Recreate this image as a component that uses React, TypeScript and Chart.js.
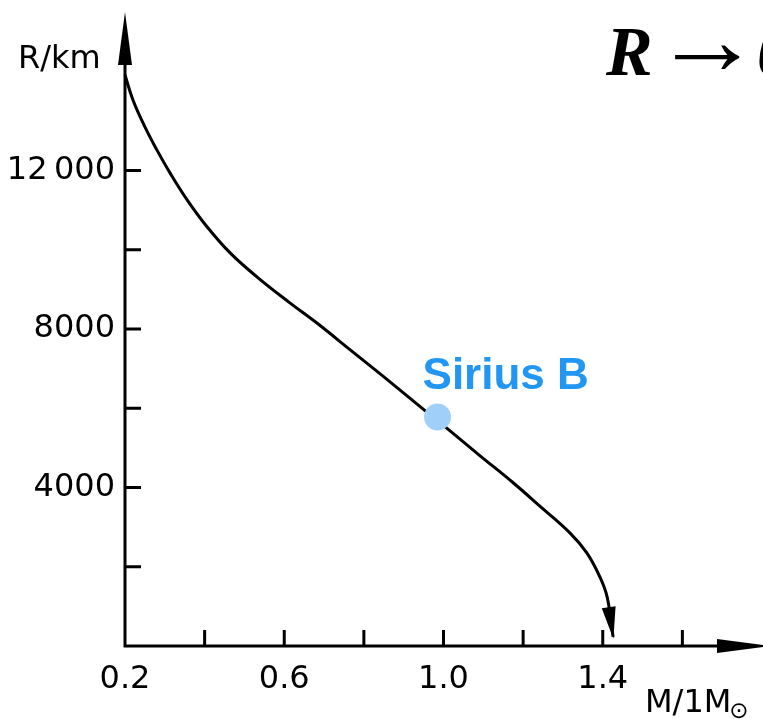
import { useEffect, useRef } from 'react';
import { Chart, registerables } from 'chart.js';

Chart.register(...registerables);

// Mass–radius relation of white dwarfs
const massValues = [0.2, 0.22, 0.25, 0.28, 0.313, 0.356, 0.406, 0.464, 0.532, 0.614, 0.682, 0.765, 0.848, 0.949, 1.009, 1.092, 1.175, 1.242, 1.318, 1.36, 1.393, 1.411, 1.426];
const radiusValues = [14410, 13780, 13100, 12520, 11940, 11260, 10580, 9920, 9310, 8660, 8150, 7480, 6810, 5980, 5490, 4800, 4120, 3530, 2850, 2350, 1740, 1240, 230];

const siriusMass = [0.985];
const siriusRadius = [5780];
const siriusLabel = 'Sirius B';

const yTickValues = [2000, 4000, 6000, 8000, 10000, 12000];
const yTickLabels: Record<number, string> = { 4000: '4000', 8000: '8000', 12000: '12\u2009000' };
const xTickValues = [0.4, 0.6, 0.8, 1.0, 1.2, 1.4, 1.6];
const xTickLabels: Record<string, string> = { '0.2': '0.2', '0.6': '0.6', '1.0': '1.0', '1.4': '1.4' };

const yAxisTitle = 'R/km';
const xAxisTitle = 'M/1M';
const xAxisSub = '\u2299';
const headline = ['R', '\u2192', '0'];

const FONT = '"DejaVu Sans", sans-serif';
const SERIF = '"Liberation Serif", "Times New Roman", serif';

const decorPlugin = {
  id: 'decor',
  beforeDatasetsDraw(chart: any) {
    const { ctx, chartArea } = chart;
    const xs = chart.scales.x;
    const ys = chart.scales.y;
    const x0 = chartArea.left;
    const y0 = chartArea.bottom;
    const xEnd = xs.getPixelForValue(xs.max);
    ctx.save();
    ctx.strokeStyle = '#000';
    ctx.fillStyle = '#000';
    ctx.lineWidth = 3;
    ctx.lineCap = 'butt';
    // axes
    ctx.beginPath();
    ctx.moveTo(x0, y0 + 1.5);
    ctx.lineTo(x0, chartArea.top + 40);
    ctx.moveTo(x0 - 1.5, y0);
    ctx.lineTo(xEnd - 20, y0);
    ctx.stroke();
    // y arrow head
    ctx.beginPath();
    ctx.moveTo(x0, chartArea.top);
    ctx.lineTo(x0 + 7, chartArea.top + 53);
    ctx.lineTo(x0 - 7, chartArea.top + 53);
    ctx.closePath();
    ctx.fill();
    // x arrow head
    ctx.beginPath();
    ctx.moveTo(xEnd + 8, y0);
    ctx.lineTo(xEnd - 45, y0 - 7);
    ctx.lineTo(xEnd - 45, y0 + 7);
    ctx.closePath();
    ctx.fill();
    // inward ticks
    ctx.beginPath();
    yTickValues.forEach((v) => {
      const py = ys.getPixelForValue(v);
      ctx.moveTo(x0, py);
      ctx.lineTo(x0 + 16, py);
    });
    xTickValues.forEach((v) => {
      const px = xs.getPixelForValue(v);
      ctx.moveTo(px, y0);
      ctx.lineTo(px, y0 - 16);
    });
    ctx.stroke();
    ctx.restore();
  },
  afterDatasetsDraw(chart: any) {
    const { ctx } = chart;
    const xs = chart.scales.x;
    const ys = chart.scales.y;
    ctx.save();
    // arrow head at end of curve
    const n = massValues.length;
    const tx = xs.getPixelForValue(massValues[n - 1]);
    const ty = ys.getPixelForValue(radiusValues[n - 1]);
    const px = xs.getPixelForValue(massValues[n - 2]);
    const py = ys.getPixelForValue(radiusValues[n - 2]);
    const ang = Math.atan2(ty - py, tx - px);
    const L = 30;
    const W = 7;
    const bx = tx - L * Math.cos(ang);
    const by = ty - L * Math.sin(ang);
    ctx.fillStyle = '#000';
    ctx.beginPath();
    ctx.moveTo(tx + 2 * Math.cos(ang), ty + 2 * Math.sin(ang));
    ctx.lineTo(bx + W * Math.sin(ang), by - W * Math.cos(ang));
    ctx.lineTo(bx - W * Math.sin(ang), by + W * Math.cos(ang));
    ctx.closePath();
    ctx.fill();

    // Sirius B label
    const sx = xs.getPixelForValue(siriusMass[0]);
    const sy = ys.getPixelForValue(siriusRadius[0]);
    ctx.fillStyle = '#2196F3';
    ctx.font = 'bold 44px "Liberation Sans", Arial, sans-serif';
    ctx.textAlign = 'left';
    ctx.textBaseline = 'alphabetic';
    ctx.fillText(siriusLabel, sx - 15, sy - 28);

    // axis titles
    ctx.fillStyle = '#000';
    ctx.font = '32px ' + FONT;
    ctx.textAlign = 'left';
    ctx.fillText(yAxisTitle, 18, 68);
    ctx.fillText(xAxisTitle, 645, 712);
    const w = ctx.measureText(xAxisTitle).width;
    ctx.font = '23px ' + FONT;
    ctx.textBaseline = 'middle';
    ctx.fillText(xAxisSub, 645 + w - 2, 712);

    // headline
    ctx.textBaseline = 'alphabetic';
    ctx.font = 'italic bold 70px ' + SERIF;
    ctx.fillText(headline[0], 606, 75);
    ctx.font = '100px ' + SERIF;
    const m = ctx.measureText(headline[1]);
    const aw = m.actualBoundingBoxLeft + m.actualBoundingBoxRight;
    const scaleX = 65 / Math.max(aw, 1);
    const cy = (m.actualBoundingBoxAscent - m.actualBoundingBoxDescent) / 2;
    ctx.save();
    ctx.translate(675, 57 + cy);
    ctx.scale(scaleX, 1);
    ctx.fillText(headline[1], m.actualBoundingBoxLeft, 0);
    ctx.restore();
    ctx.font = 'italic bold 70px ' + SERIF;
    ctx.fillText(headline[2], 757, 75);
    ctx.restore();
  },
};

export default function App() {
  const ref = useRef<HTMLCanvasElement | null>(null);
  useEffect(() => {
    if (!ref.current) return;
    const chart = new Chart(ref.current, {
      type: 'line',
      data: {
        datasets: [
          {
            label: siriusLabel,
            data: siriusMass.map((m, i) => ({ x: m, y: siriusRadius[i] })),
            showLine: false,
            pointRadius: 13.5,
            pointBackgroundColor: '#a0d0fa',
            pointBorderWidth: 0,
            pointBorderColor: '#a0d0fa',
            order: 0,
          },
          {
            label: 'R(M)',
            data: massValues.map((m, i) => ({ x: m, y: radiusValues[i] })),
            borderColor: '#000',
            borderWidth: 3,
            pointRadius: 0,
            tension: 0.4,
            fill: false,
            clip: false,
            order: 1,
          },
        ],
      },
      options: {
        animation: false,
        responsive: false,
        events: [],
        layout: { autoPadding: false, padding: { top: 12, right: 1, left: 0, bottom: 0 } },
        plugins: { legend: { display: false }, tooltip: { enabled: false } },
        scales: {
          x: {
            type: 'linear',
            min: 0.2,
            max: 1.8,
            grid: { display: false, drawTicks: false },
            border: { display: false },
            afterFit: (s: any) => { s.height = 73; s.paddingLeft = 0; s.paddingRight = 0; },
            ticks: {
              stepSize: 0.2,
              autoSkip: false,
              maxRotation: 0,
              padding: 14,
              color: '#000',
              font: { family: FONT, size: 32 },
              callback: (v: any) => xTickLabels[Number(v).toFixed(1)] ?? null,
            },
          },
          y: {
            type: 'linear',
            min: 0,
            max: 16000,
            grid: { display: false, drawTicks: false },
            border: { display: false },
            afterFit: (s: any) => { s.width = 125; s.paddingTop = 0; s.paddingBottom = 0; },
            ticks: {
              stepSize: 2000,
              autoSkip: false,
              padding: 10,
              color: '#000',
              font: { family: FONT, size: 32 },
              callback: (v: any) => yTickLabels[Math.round(Number(v))] ?? null,
            },
          },
        },
      },
      plugins: [decorPlugin],
    });
    return () => chart.destroy();
  }, []);
  return (
    <div style={{ position: 'fixed', left: 0, top: 0, width: 763, height: 719, background: '#fff' }}>
      <canvas ref={ref} width={763} height={719} style={{ width: 763, height: 719 }} />
    </div>
  );
}
